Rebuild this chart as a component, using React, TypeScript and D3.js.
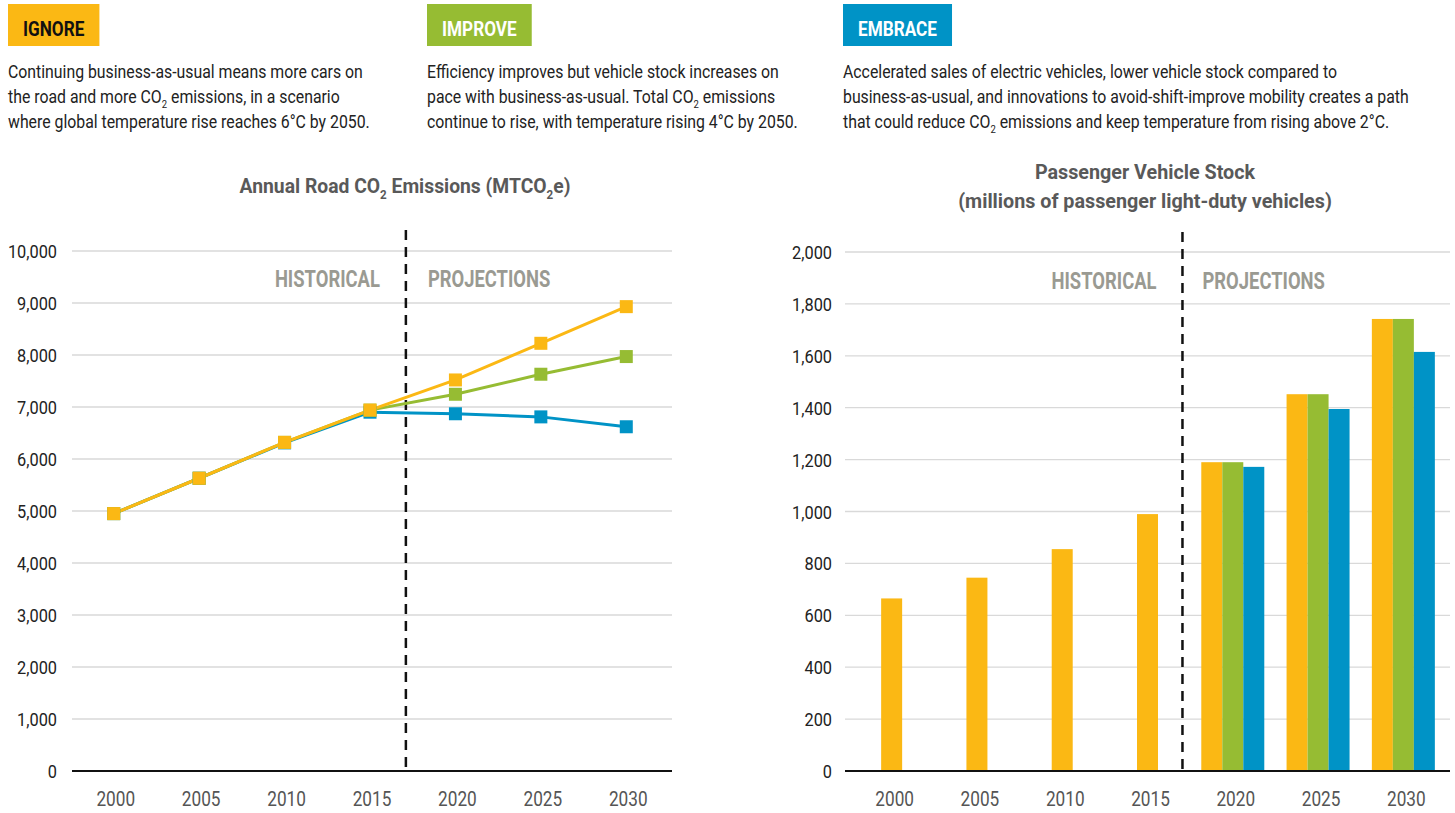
import React, { useEffect, useRef } from 'react';
import * as d3 from 'd3';

// scenario headers
const scenarios = ['IGNORE', 'IMPROVE', 'EMBRACE'];
const scenarioColors = ['#FBB814', '#96BC33', '#0093C6'];
const scenarioLabelColors = ['#111111', '#ffffff', '#ffffff'];
const scenarioText = [
  [
    'Continuing business-as-usual means more cars on',
    'the road and more CO_2 emissions, in a scenario',
    'where global temperature rise reaches 6°C by 2050.',
  ],
  [
    'Efficiency improves but vehicle stock increases on',
    'pace with business-as-usual. Total CO_2 emissions',
    'continue to rise, with temperature rising 4°C by 2050.',
  ],
  [
    'Accelerated sales of electric vehicles, lower vehicle stock compared to',
    'business-as-usual, and innovations to avoid-shift-improve mobility creates a path',
    'that could reduce CO_2 emissions and keep temperature from rising above 2°C.',
  ],
];

const years = ['2000', '2005', '2010', '2015', '2020', '2025', '2030'];

// annual road CO2 emissions (MTCO2e)
const emissionsIgnore = [4950, 5630, 6320, 6940, 7520, 8225, 8930];
const emissionsImprove = [4950, 5630, 6320, 6940, 7245, 7630, 7970];
const emissionsEmbrace = [4950, 5630, 6310, 6900, 6870, 6810, 6620];
const emissionTicks = [0, 1000, 2000, 3000, 4000, 5000, 6000, 7000, 8000, 9000, 10000];

// passenger vehicle stock (millions)
const stockIgnore = [665, 745, 855, 990, 1190, 1452, 1742];
const stockImprove = [null, null, null, null, 1190, 1452, 1742];
const stockEmbrace = [null, null, null, null, 1172, 1395, 1615];
const stockTicks = [0, 200, 400, 600, 800, 1000, 1200, 1400, 1600, 1800, 2000];

const FONT = "Roboto, 'Noto Sans', sans-serif";
const SX = 0.86;
const fmt = d3.format(',');

function label(parent: any, x: number, y: number, str: string, o: any) {
  const sx = o.sx ?? SX;
  const g = parent.append('g').attr('transform', `translate(${x},${y}) scale(${sx},1)`);
  const t = g.append('text')
    .attr('font-family', FONT)
    .attr('font-size', o.size)
    .attr('font-weight', o.weight || 400)
    .attr('fill', o.fill || '#222')
    .attr('text-anchor', o.anchor || 'start');
  const parts = str.split('_2');
  parts.forEach((p, i) => {
    if (i > 0) {
      t.append('tspan').attr('font-size', o.size * 0.6).attr('dy', o.size * 0.3).text('2');
      t.append('tspan').attr('dy', -o.size * 0.3).text(p);
    } else {
      t.append('tspan').text(p);
    }
  });
  return t;
}

function App() {
  const ref = useRef<SVGSVGElement>(null);

  useEffect(() => {
    document.body.style.margin = '0';
    const svg = d3.select(ref.current);
    svg.selectAll('*').remove();

    // ---- headers ----
    const colX = [8, 427, 843];
    scenarios.forEach((s, i) => {
      const g = svg.append('g');
      const rect = g.append('rect').attr('x', colX[i]).attr('y', 4).attr('height', 42).attr('fill', scenarioColors[i]);
      const t = label(g, colX[i] + 15, 36, s, { size: 20, weight: 700, fill: scenarioLabelColors[i] });
      const w = (t.node() as SVGTextElement).getComputedTextLength() * SX;
      rect.attr('width', w + 30);
      scenarioText[i].forEach((line, j) => {
        label(svg, colX[i], 78 + j * 25, line, { size: 18, fill: '#222', sx: 0.88 });
      });
    });

    // ---- left: line chart ----
    const yL = d3.scaleLinear().domain([0, 10000]).range([771, 251]);
    const xL = d3.scaleBand().domain(years).range([71, 669]);
    const cx = (d: string) => (xL(d) as number) + xL.bandwidth() / 2;
    const left = svg.append('g');

    left.selectAll('line.grid').data(emissionTicks.slice(1)).enter()
      .append('line').attr('class', 'grid')
      .attr('x1', 72).attr('x2', 672)
      .attr('y1', d => yL(d)).attr('y2', d => yL(d))
      .attr('stroke', '#d9d9d9').attr('stroke-width', 1.3);
    emissionTicks.forEach(d => label(left, 57, yL(d) + 7, fmt(d), { size: 19, anchor: 'end', fill: '#222' }));
    years.forEach(d => label(left, cx(d) + 2, 806, d, { size: 21, anchor: 'middle', fill: '#555', sx: 0.82 }));

    left.append('line').attr('x1', 72).attr('x2', 672).attr('y1', yL(0)).attr('y2', yL(0))
      .attr('stroke', '#111').attr('stroke-width', 2);

    const divL = cx('2015') + xL.step() * 0.42;
    left.append('line').attr('x1', divL).attr('x2', divL).attr('y1', 230).attr('y2', 774)
      .attr('stroke', '#111').attr('stroke-width', 2.5).attr('stroke-dasharray', '10,7');
    label(left, divL - 26, 287, 'HISTORICAL', { size: 23, weight: 700, anchor: 'end', fill: '#9a9a92', sx: 0.8 });
    label(left, divL + 22, 287, 'PROJECTIONS', { size: 23, weight: 700, anchor: 'start', fill: '#9a9a92', sx: 0.8 });

    label(left, 405, 193, 'Annual Road CO_2 Emissions (MTCO_2e)', { size: 21, weight: 700, anchor: 'middle', fill: '#595959', sx: 0.92 });

    const series = [
      { values: emissionsEmbrace, color: scenarioColors[2] },
      { values: emissionsImprove, color: scenarioColors[1] },
      { values: emissionsIgnore, color: scenarioColors[0] },
    ];
    const line = d3.line<number>().x((d, i) => cx(years[i])).y(d => yL(d));
    series.forEach(s => {
      left.append('path').datum(s.values).attr('d', line)
        .attr('fill', 'none').attr('stroke', s.color).attr('stroke-width', 3);
    });
    series.forEach(s => {
      left.selectAll(null).data(s.values).enter().append('rect')
        .attr('x', (d, i) => cx(years[i]) - 6.5).attr('y', d => yL(d) - 6.5)
        .attr('width', 13).attr('height', 13).attr('fill', s.color);
    });

    // ---- right: bar chart ----
    const yR = d3.scaleLinear().domain([0, 2000]).range([771, 252]);
    const xR = d3.scaleBand().domain(years).range([849, 1446]);
    const cxR = (d: string) => (xR(d) as number) + xR.bandwidth() / 2;
    const right = svg.append('g');

    right.selectAll('line.grid').data(stockTicks.slice(1)).enter()
      .append('line').attr('class', 'grid')
      .attr('x1', 845).attr('x2', 1450)
      .attr('y1', d => yR(d)).attr('y2', d => yR(d))
      .attr('stroke', '#d9d9d9').attr('stroke-width', 1.3);
    stockTicks.forEach(d => label(right, 832, yR(d) + 7, fmt(d), { size: 19, anchor: 'end', fill: '#222' }));
    years.forEach(d => label(right, cxR(d) + 3, 806, d, { size: 21, anchor: 'middle', fill: '#555', sx: 0.82 }));

    const barW = 21;
    const stock = [stockIgnore, stockImprove, stockEmbrace];
    years.forEach((yr, i) => {
      const vals = stock.map((s, k) => ({ v: s[i], k })).filter(d => d.v != null);
      const x0 = cxR(yr) - (vals.length * barW) / 2;
      right.selectAll(null).data(vals).enter().append('rect')
        .attr('x', (d, j) => x0 + j * barW)
        .attr('y', d => yR(d.v as number))
        .attr('width', barW)
        .attr('height', d => yR(0) - yR(d.v as number))
        .attr('fill', d => scenarioColors[d.k]);
    });

    right.append('line').attr('x1', 845).attr('x2', 1450).attr('y1', yR(0)).attr('y2', yR(0))
      .attr('stroke', '#111').attr('stroke-width', 2);

    const divR = cxR('2015') + xR.step() * 0.41;
    right.append('line').attr('x1', divR).attr('x2', divR).attr('y1', 232).attr('y2', 774)
      .attr('stroke', '#111').attr('stroke-width', 2.5).attr('stroke-dasharray', '10,7');
    label(right, divR - 26, 289, 'HISTORICAL', { size: 23, weight: 700, anchor: 'end', fill: '#9a9a92', sx: 0.8 });
    label(right, divR + 20, 289, 'PROJECTIONS', { size: 23, weight: 700, anchor: 'start', fill: '#9a9a92', sx: 0.8 });

    label(right, 1145, 179, 'Passenger Vehicle Stock', { size: 21, weight: 700, anchor: 'middle', fill: '#595959', sx: 0.94 });
    label(right, 1145, 208, '(millions of passenger light-duty vehicles)', { size: 21, weight: 700, anchor: 'middle', fill: '#595959', sx: 0.94 });
  }, []);

  return <svg ref={ref} width={1455} height={813} style={{ display: 'block', background: '#fff' }} />;
}

export default App;
